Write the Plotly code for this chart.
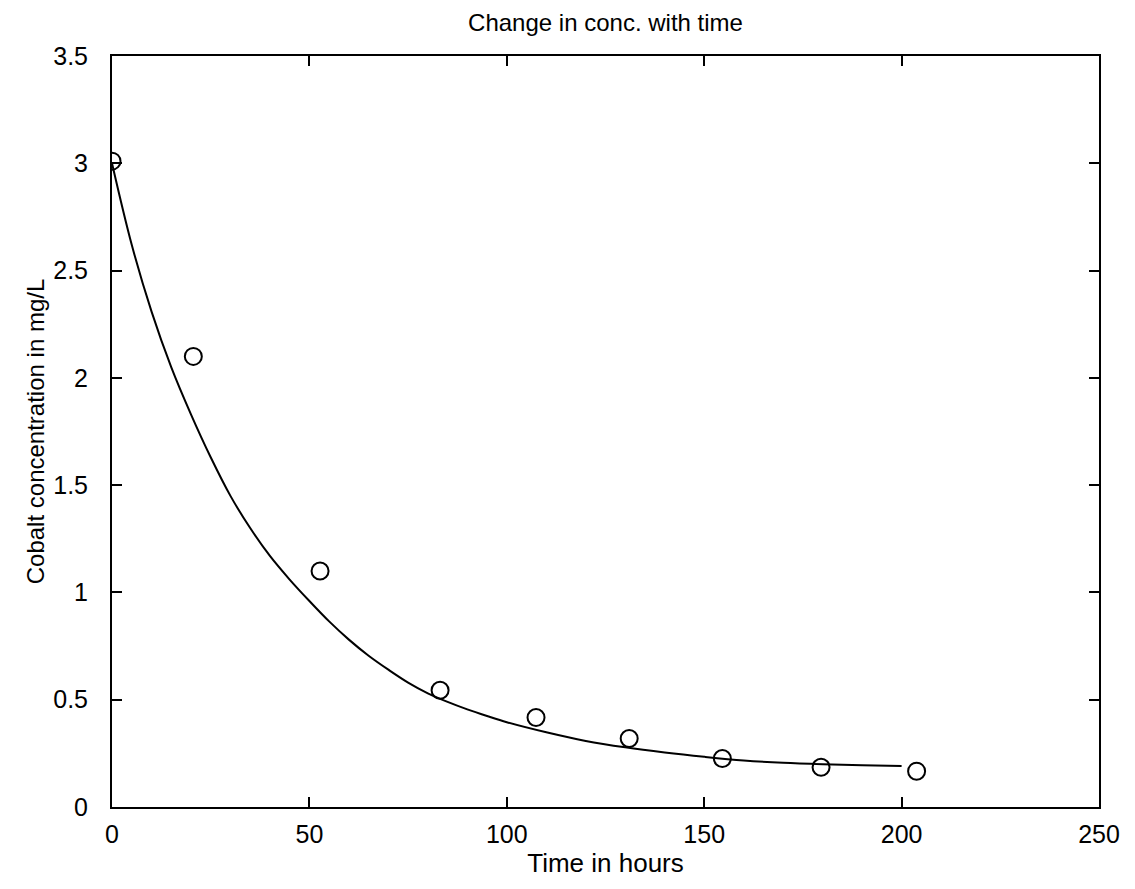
import plotly.graph_objects as go

# Measured data points (time in hours, cobalt concentration mg/L)
time_obs = [0, 20.6, 52.7, 83.1, 107.4, 131.0, 154.6, 179.6, 203.8]
conc_obs = [3.01, 2.10, 1.10, 0.544, 0.417, 0.319, 0.226, 0.185, 0.167]

# Fitted curve
time_fit = [0, 5, 10, 15, 20, 25, 30, 35, 40, 45, 50, 55, 60, 65, 70, 75, 80,
            85, 90, 95, 100, 110, 120, 130, 140, 150, 160, 170, 180, 190, 200]
conc_fit = [3.0, 2.62, 2.31, 2.05, 1.83, 1.63, 1.45, 1.30, 1.17, 1.06, 0.96,
            0.865, 0.78, 0.705, 0.64, 0.58, 0.53, 0.49, 0.455, 0.424, 0.395,
            0.348, 0.308, 0.278, 0.254, 0.234, 0.217, 0.206, 0.199, 0.194, 0.191]

x_ticks = [0, 50, 100, 150, 200, 250]
y_ticks = [0, 0.5, 1, 1.5, 2, 2.5, 3, 3.5]
y_tick_text = ["0", "0.5", "1", "1.5", "2", "2.5", "3", "3.5"]

FONT = "Liberation Sans, Arial, sans-serif"

fig = go.Figure()
fig.add_trace(go.Scatter(
    x=time_fit, y=conc_fit, mode="lines",
    line=dict(color="black", width=2, shape="spline", smoothing=1.0),
    showlegend=False, hoverinfo="skip"))
fig.add_trace(go.Scatter(
    x=time_obs, y=conc_obs, mode="markers",
    marker=dict(symbol="circle-open", size=17, color="black",
                line=dict(width=2, color="black")),
    showlegend=False))

axis_common = dict(
    showline=True, linecolor="black", linewidth=2, mirror="ticks",
    ticks="inside", ticklen=10, tickwidth=1.5, tickcolor="black",
    showgrid=False, zeroline=False,
    tickfont=dict(family=FONT, size=25, color="black"),
)

fig.update_layout(
    width=1135, height=889,
    margin=dict(l=104, r=44, t=48, b=90),
    paper_bgcolor="white", plot_bgcolor="white",
    title=dict(text="Change in conc. with time", x=0.5, xref="paper",
               y=1 - 15 / 889, yref="container", yanchor="middle",
               font=dict(family=FONT, size=24, color="black")),
    xaxis=dict(range=[0, 250], tickvals=x_ticks,
               title=dict(text="Time in hours", standoff=4,
                          font=dict(family=FONT, size=26, color="black")),
               ticklabelstandoff=4,
               **axis_common),
    yaxis=dict(range=[0, 3.5], tickvals=y_ticks, ticktext=y_tick_text,
               title=dict(text="Cobalt concentration in mg/L", standoff=2,
                          font=dict(family=FONT, size=24, color="black")),
               ticklabelstandoff=17,
               **axis_common),
)

fig.write_html("out.html")
